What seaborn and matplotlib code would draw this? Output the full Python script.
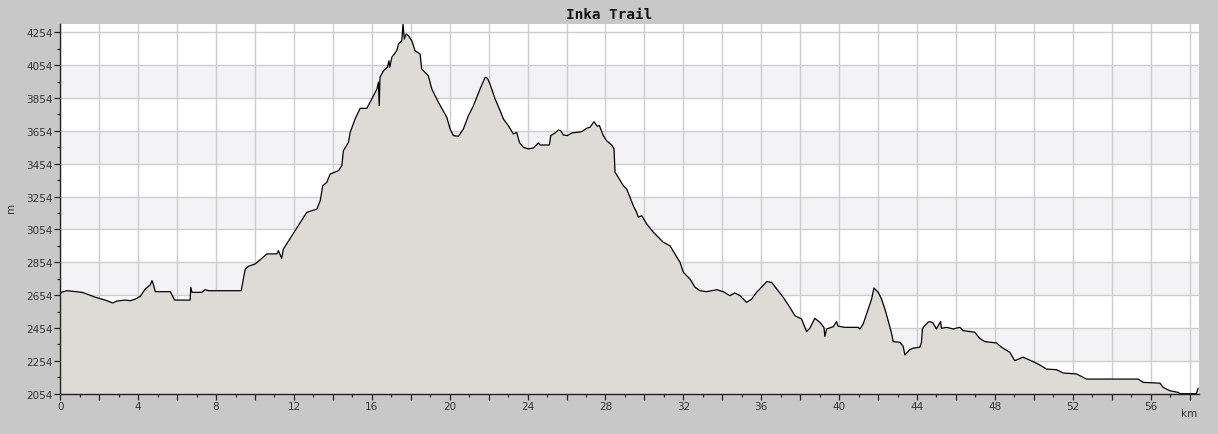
import numpy as np
import pandas as pd
import matplotlib
matplotlib.use("Agg")
import matplotlib.pyplot as plt
from matplotlib.ticker import MultipleLocator, FuncFormatter, FixedLocator
import seaborn as sns

title = "Inka Trail"
x_label = "km"
y_label = "m"

km = [0.0, 0.05, 0.34, 1.11, 1.2, 1.8, 2.31, 2.69, 2.91, 3.34, 3.59, 3.85, 4.11, 4.36, 4.62, 4.71, 4.79, 4.88,
      5.65, 5.87, 6.67, 6.70, 6.76, 7.27, 7.44, 7.61, 9.29, 9.50, 9.67, 10.01, 10.18, 10.61, 11.12, 11.2, 11.37,
      11.46, 12.66, 13.18, 13.35, 13.48, 13.69, 13.86, 14.29, 14.46, 14.54, 14.8, 14.89, 15.14, 15.4, 15.74,
      16.0, 16.26, 16.34, 16.38, 16.42, 16.6, 16.8, 16.88, 16.92, 17.03, 17.28, 17.37, 17.54, 17.60, 17.67,
      17.76, 17.88, 18.05, 18.22, 18.48, 18.56, 18.9, 19.08, 19.42, 19.85, 20.02, 20.19, 20.45, 20.7, 20.96,
      21.22, 21.56, 21.82, 21.94, 22.07, 22.33, 22.59, 22.76, 23.01, 23.27, 23.44, 23.58, 23.78, 24.04, 24.3,
      24.55, 24.64, 25.12, 25.19, 25.41, 25.58, 25.7, 25.84, 26.04, 26.27, 26.53, 26.78, 27.04, 27.21, 27.41,
      27.58, 27.69, 27.89, 28.06, 28.32, 28.44, 28.49, 28.66, 28.92, 29.09, 29.26, 29.43, 29.6, 29.69, 29.86,
      30.12, 30.46, 30.8, 30.97, 31.31, 31.57, 31.83, 32.0, 32.34, 32.6, 32.85, 33.2, 33.71, 34.05, 34.39,
      34.65, 34.91, 34.99, 35.25, 35.51, 35.76, 35.93, 36.28, 36.53, 36.87, 37.13, 37.47, 37.73, 38.07, 38.24,
      38.33, 38.5, 38.75, 39.01, 39.22, 39.27, 39.36, 39.7, 39.87, 39.95, 40.3, 40.98, 41.07, 41.24, 41.5,
      41.67, 41.79, 42.01, 42.18, 42.35, 42.52, 42.7, 42.78, 43.12, 43.29, 43.38, 43.63, 43.8, 44.15, 44.23,
      44.28, 44.32, 44.57, 44.66, 44.83, 45.0, 45.21, 45.26, 45.52, 45.86, 46.2, 46.37, 46.97, 47.22, 47.48,
      48.08, 48.34, 48.77, 49.02, 49.45, 49.97, 50.31, 50.65, 51.17, 51.51, 52.2, 52.71, 55.36, 55.62, 56.48,
      56.65, 56.99, 57.41, 57.5, 58.35, 58.44]
elev = [2662, 2671, 2681, 2671, 2668, 2641, 2624, 2606, 2618, 2624, 2620, 2630, 2647, 2691, 2716, 2742, 2716, 2675,
        2675, 2624, 2624, 2702, 2671, 2671, 2687, 2681, 2681, 2813, 2830, 2844, 2860, 2905, 2905, 2925, 2878,
        2935, 3158, 3178, 3229, 3320, 3341, 3391, 3412, 3442, 3533, 3584, 3645, 3726, 3791, 3791,
        3848, 3909, 3950, 3807, 3980, 4020, 4041, 4081, 4041, 4102, 4142, 4183, 4203, 4305, 4213,
        4244, 4233, 4203, 4142, 4122, 4031, 3990, 3909, 3828, 3737, 3665, 3625, 3621, 3665, 3746,
        3807, 3909, 3980, 3974, 3939, 3848, 3777, 3726, 3686, 3635, 3645, 3584, 3554, 3544, 3550,
        3580, 3568, 3568, 3625, 3641, 3659, 3655, 3629, 3625, 3641, 3645, 3649, 3670, 3676, 3710,
        3682, 3686, 3625, 3594, 3568, 3544, 3402, 3371, 3320, 3300, 3250, 3198, 3158, 3128, 3138,
        3087, 3037, 2996, 2976, 2955, 2905, 2854, 2793, 2752, 2702, 2681, 2675, 2687, 2675, 2651,
        2667, 2651, 2641, 2610, 2630, 2671, 2691, 2736, 2732, 2681, 2641, 2580, 2529, 2509, 2458,
        2432, 2452, 2513, 2489, 2458, 2403, 2448, 2462, 2493, 2465, 2458, 2458, 2448, 2479, 2570,
        2630, 2697, 2671, 2630, 2570, 2499, 2418, 2371, 2367, 2343, 2290, 2322, 2331, 2337, 2367,
        2448, 2458, 2489, 2493, 2484, 2448, 2493, 2452, 2458, 2448, 2458, 2438, 2428, 2391, 2371,
        2363, 2337, 2306, 2255, 2276, 2249, 2229, 2204, 2200, 2180, 2174, 2143, 2143, 2123, 2118,
        2092, 2072, 2062, 2054, 2054, 2088]

y_ticks = [2054, 2254, 2454, 2654, 2854, 3054, 3254, 3454, 3654, 3854, 4054, 4254]
x_ticks = [0, 4, 8, 12, 16, 20, 24, 28, 32, 36, 40, 44, 48, 52, 56]

df = pd.DataFrame({"km": km, "elev": elev})

sns.set_style("white")
plt.rcParams["font.family"] = ["DejaVu Sans"]

fig = plt.figure(figsize=(12.18, 4.35), dpi=100, facecolor="#c8c8c8")
ax = fig.add_axes([60.3 / 1218, 1 - 394.7 / 435, (1199 - 60.3) / 1218, (394.7 - 25) / 435])
ax.set_facecolor("white")

xmax = (1199 - 60.3) / 19.47
ymin, ymax = 2054, 4254 + (33.3 - 25) * 2200 / 361.4
ax.set_xlim(0, xmax)
ax.set_ylim(ymin, ymax)

# alternating bands
for i, lo in enumerate(y_ticks[1:-1]):
    if i % 2 == 0:
        ax.axhspan(lo, lo + 200, color="#f3f2f5", zorder=0, lw=0)

ax.xaxis.set_major_locator(MultipleLocator(2))
ax.xaxis.set_minor_locator(MultipleLocator(1))
ax.xaxis.set_major_formatter(FuncFormatter(lambda v, p: f"{int(round(v))}" if int(round(v)) in x_ticks else ""))
ax.set_yticks(y_ticks)
ax.yaxis.set_minor_locator(FixedLocator([t + 100 for t in y_ticks]))
ax.grid(True, which="major", color="#cdcdcd", lw=1.0, zorder=1)
ax.set_axisbelow(True)

ax.fill_between(df["km"], df["elev"], ymin - 100, color="#dcdbd6", lw=0, zorder=2)
sns.lineplot(data=df, x="km", y="elev", ax=ax, color="black", lw=0.9, zorder=3, sort=False)

for s in ["top", "right"]:
    ax.spines[s].set_visible(False)
for s in ["left", "bottom"]:
    ax.spines[s].set_color("#222222")
    ax.spines[s].set_linewidth(1.0)

ax.tick_params(which="major", direction="out", length=4, width=0.9, color="#222222",
               labelsize=7.5, labelcolor="#333333", pad=1.5, left=True, bottom=True)
ax.tick_params(which="minor", direction="out", length=2.5, width=0.9, color="#222222", left=True, bottom=True)

ax.set_xlabel("")
ax.set_ylabel("")
fig.text(11 / 1218, 1 - 208 / 435, y_label, rotation=90, ha="center", va="center", fontsize=7.5, color="#333333")
fig.text(1189 / 1218, 1 - 414 / 435, x_label, ha="center", va="center", fontsize=7.5, color="#333333")
fig.text(0.5, 1 - 15 / 435, title, ha="center", va="center", fontsize=10.4, fontweight="bold",
         family="DejaVu Sans Mono", color="#111111")

fig.savefig("out.png", dpi=100, facecolor=fig.get_facecolor())
